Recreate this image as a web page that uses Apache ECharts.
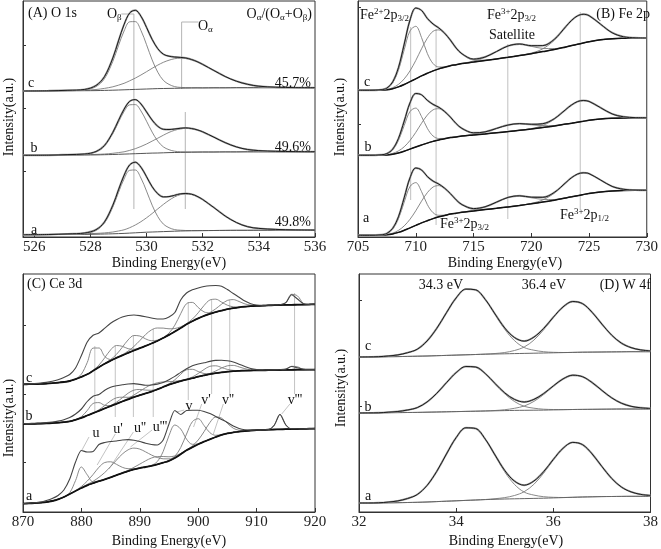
<!DOCTYPE html>
<html><head><meta charset="utf-8">
<script src="https://cdn.jsdelivr.net/npm/echarts@6/dist/echarts.min.js"></script>
<style>html,body{margin:0;padding:0;background:#fff}#c{width:661px;height:549px}</style>
</head><body><div id="c"></div>
<script>
// ---------- Panel A : O 1s ----------
const xA = [525.6,526.5,527.2,527.8,528.2,528.5,528.8,529.0,529.2,529.4,529.6,529.8,530.0,530.2,530.4,530.6,530.8,531.0,531.2,531.4,531.6,531.8,532.0,532.4,532.8,533.2,533.6,534.0,534.6,535.3,536.0];
const ticksA = [526,528,530,532,534,536];
const bgA_a = [2.3,2.4,2.5,2.6,2.8,3.0,3.2,3.4,3.6,3.9,4.2,4.5,4.8,5.0,5.2,5.4,5.6,5.8,6.0,6.1,6.2,6.3,6.4,6.5,6.6,6.7,6.7,6.8,6.8,6.8,6.8];
const bgA_b = [81.7,81.8,81.9,82.0,82.1,82.3,82.5,82.7,82.9,83.1,83.3,83.5,83.7,83.9,84.0,84.2,84.4,84.5,84.6,84.7,84.8,84.9,85.0,85.0,85.1,85.1,85.2,85.2,85.2,85.2,85.2];
const bgA_c = [146.0,146.1,146.2,146.3,146.4,146.6,146.8,147.0,147.2,147.4,147.6,147.8,148.0,148.2,148.4,148.5,148.6,148.7,148.8,148.9,149.0,149.1,149.1,149.2,149.2,149.3,149.3,149.3,149.3,149.3,149.3];
const obA_a = [0,0,0.3,0.8,3.7,10.9,26.8,41.1,54.5,62.8,62.8,54.5,41.1,26.8,15.2,7.5,3.7,1.6,0.8,0.4,0.3,0.1,0,0,0,0,0,0,0,0,0];
const obA_b = [0,0,0.3,0.6,2.9,8.5,21.0,32.1,42.6,49.1,49.1,42.6,32.1,21.0,11.9,5.9,2.9,1.3,0.6,0.4,0.2,0.1,0,0,0,0,0,0,0,0,0];
const obA_c = [0,0,0.3,0.8,4.0,11.7,28.9,44.3,58.8,67.8,67.8,58.8,44.3,28.9,16.4,8.1,4.0,1.7,0.8,0.5,0.3,0.1,0,0,0,0,0,0,0,0,0];
const oaA_a = [0,0.1,0.3,0.6,0.8,1.1,1.8,2.6,3.6,5.4,7.8,10.8,14.4,18.5,22.9,27.2,31.1,34.3,36.3,37,36.3,34.3,31.1,22.9,14.4,7.8,3.6,1.8,0.8,0.3,0.1];
const oaA_b = [0,0,0.2,0.4,0.5,0.7,1.2,1.7,2.3,3.5,5.0,7.0,9.3,12.0,14.8,17.6,20.2,22.2,23.5,24,23.5,22.2,20.2,14.8,9.3,5.0,2.3,1.2,0.5,0.2,0.1];
const oaA_c = [0,0.1,0.2,0.5,1.1,2.0,3.4,4.8,6.5,8.8,11.3,14.2,17.3,20.5,23.5,26.2,28.2,29.6,30,29.6,28.2,26.2,23.5,17.3,11.3,6.5,3.4,1.5,0.5,0.1,0];
const guideA = [[[529.1,223],[529.55,223],[529.55,28]],[[531.85,215],[531.25,215],[531.25,148]],[[531.38,125],[531.38,28]]];

// ---------- Panel B : Fe 2p ----------
const xB = [705,706,707,707.5,708,708.5,709,709.5,710,710.5,711,711.5,712,712.5,713,713.5,714,715,716,717,718,719,720,721,722,723,723.5,724,724.5,725,726,727,728,729,730];
const ticksB = [705,710,715,720,725,730];
const bgB_a = [1.7,1.7,1.9,2.2,3.1,4.6,6.7,9.1,11.6,14.1,16.3,18.4,20.2,21.5,22.9,23.8,24.7,26.0,27.4,28.7,30.1,31.6,33.2,35.0,36.8,39.1,40.2,41.3,42.4,43.6,45.1,46.0,46.5,46.7,46.7];
const bgB_b = [81.7,81.7,81.9,82.1,82.8,84.1,85.8,87.9,90.0,92.0,93.9,95.6,97.1,98.2,99.4,100.1,100.9,102.0,103.1,104.3,105.4,106.7,108.0,109.5,111.0,112.9,113.8,114.8,115.7,116.7,118.0,118.7,119.1,119.3,119.3];
const bgB_c = [146.7,146.7,147.0,147.2,148.3,150.1,152.5,155.3,158.2,161.1,163.7,166.1,168.1,169.7,171.3,172.3,173.4,174.9,176.5,178.1,179.7,181.5,183.3,185.4,187.5,190.1,191.4,192.7,194.0,195.3,197.2,198.2,198.7,199.0,199.0];
const fe2B_a = [0,0,0.2,1.1,4.7,13.6,28.2,41.4,42.8,31.3,16.2,5.9,1.5,0.4,0.2,0,0,0,0,0,0,0,0,0,0,0,0,0,0,0,0,0,0,0,0];
const fe2B_b = [0,0,0.2,1.0,4.2,12.4,25.7,37.6,38.9,28.5,14.8,5.4,1.4,0.4,0.2,0,0,0,0,0,0,0,0,0,0,0,0,0,0,0,0,0,0,0,0];
const fe2B_c = [0,0,0.2,1.4,5.7,16.7,34.7,50.8,52.5,38.4,19.9,7.3,1.9,0.5,0.3,0,0,0,0,0,0,0,0,0,0,0,0,0,0,0,0,0,0,0,0];
const fe3B_a = [0,0,0.1,0.3,0.8,2.0,4.4,8.6,14.6,21.7,28.0,31.6,31.2,26.9,20.3,13.3,7.6,1.7,0.2,0,0,0,0,0,0,0,0,0,0,0,0,0,0,0,0];
const fe3B_b = [0,0,0.1,0.3,0.8,2.0,4.4,8.6,14.6,21.7,28.0,31.6,31.2,26.9,20.3,13.3,7.6,1.7,0.2,0,0,0,0,0,0,0,0,0,0,0,0,0,0,0,0];
const fe3B_c = [0,0,0.1,0.3,1.0,2.5,5.6,10.8,18.3,27.1,35.0,39.6,39.0,33.6,25.3,16.6,9.6,2.1,0.3,0,0,0,0,0,0,0,0,0,0,0,0,0,0,0,0];
const satB_a = [0,0,0,0,0,0,0,0,0,0,0,0,0,0,0,0,0.1,0.7,2.6,6.2,9.5,9.5,6.2,2.6,0.7,0.1,0,0,0,0,0,0,0,0,0];
const satB_b = [0,0,0,0,0,0,0,0,0,0,0,0,0,0,0,0,0.1,0.5,1.8,4.3,6.6,6.6,4.3,1.8,0.5,0.1,0,0,0,0,0,0,0,0,0];
const satB_c = [0,0,0,0,0,0,0,0,0,0,0,0,0,0,0,0,0.2,0.9,3.2,7.4,11.4,11.4,7.4,3.2,0.9,0.2,0,0,0,0,0,0,0,0,0];
const p12B_a = [0,0,0,0,0,0,0,0,0,0,0,0,0,0,0,0,0,0,0,0,0,0.1,0.4,2.1,7.1,15.3,19.2,21.6,21.8,19.8,11.9,4.6,1.2,0.2,0];
const p12B_b = [0,0,0,0,0,0,0,0,0,0,0,0,0,0,0,0,0,0,0,0,0,0.1,0.4,2.0,6.8,14.6,18.3,20.6,20.8,18.9,11.3,4.4,1.1,0.1,0];
const p12B_c = [0,0,0,0,0,0,0,0,0,0,0,0,0,0,0,0,0,0,0,0,0,0.1,0.6,2.8,9.3,20.2,25.3,28.4,28.7,26.1,15.6,6.1,1.5,0.2,0];
const guideB = [[[709.56,210],[709.56,37]],[[711.76,208],[711.76,12]],[[717.97,193],[717.97,18]],[[724.24,225],[724.24,27]]];

// ---------- Panel C : Ce 3d ----------
const xC = [870,871,872,873,874,875,876,877,878,879,880,881,882,883,884,885,886,887,888,889,890,891,892,893,894,895,896,897,898,899,900,901,902,903,904,905,906,907,908,909,910,911,912,913,914,915,916,917,918,919,920];
const ticksC = [870,880,890,900,910,920];
const bgC_a = [8.4,8.6,8.9,9.3,9.9,11.0,12.7,15.0,18.0,21.0,24.0,26.7,28.8,30.8,32.6,34.6,36.8,38.9,40.9,42.6,43.9,45.0,46.2,47.6,49.3,51.2,54.0,57.8,61.7,64.8,67.8,70.3,72.7,75.0,77.1,78.6,79.6,80.4,81.0,81.5,81.9,82.1,82.3,82.5,82.6,82.8,82.9,83.0,83.1,83.3,83.4];
const rawC_a = [8.5,8.7,9.2,10.0,11.5,13.5,16.5,22.0,33.0,50.0,61.5,60.0,60.5,67.5,69.5,70.5,71.0,72.0,72.4,71.8,70.5,68.8,67.5,67.0,72.0,88.0,101.5,97.5,101.5,101.8,101.7,100.5,98.4,95.5,92.5,89.5,86.0,83.6,82.3,81.9,82.0,82.2,82.4,86.5,97.5,87.0,83.2,83.2,83.3,83.5,83.6];
const bgC_b = [88.0,88.1,88.2,88.4,88.6,88.9,89.3,89.8,90.6,92.2,94.2,96.5,98.8,101.2,103.6,105.9,108.2,110.5,112.7,114.9,116.8,118.6,120.4,122.6,125.0,127.3,129.2,130.9,132.4,133.8,135.3,136.6,137.8,138.8,139.6,140.3,140.9,141.2,141.4,141.5,141.6,141.7,141.8,141.9,142.0,142.1,142.2,142.3,142.3,142.4,142.4];
const rawC_b = [88.3,88.5,88.7,89.0,89.4,90.0,90.9,92.3,94.5,98.0,103.0,110.5,115.8,117.5,121.8,124.8,126.3,127.2,128.0,128.4,127.6,126.8,127.0,127.9,129.5,132.3,135.6,139.6,143.3,146.3,148.0,149.2,150.6,151.6,151.8,151.2,150.0,147.8,145.6,143.5,142.4,142.0,142.0,142.1,142.3,142.9,145.5,144.2,142.7,142.5,142.5];
const bgC_c = [127.7,127.8,127.9,128.1,128.4,128.8,129.3,130.0,131.0,132.8,135.2,137.7,141.2,144.8,148.3,151.3,154.1,156.7,159.1,161.5,163.8,166.1,168.5,171.0,174.0,177.1,180.5,184.0,187.7,190.8,193.6,196.1,198.2,199.9,201.4,202.8,203.9,204.7,205.3,205.8,206.1,206.3,206.6,206.8,207.0,207.1,207.2,207.3,207.4,207.5,207.7];
const rawC_c = [127.8,128.0,128.4,128.9,129.6,130.7,132.3,134.6,137.5,144.0,156.5,170.0,176.8,179.0,183.8,188.7,192.3,195.0,196.5,197.0,196.4,195.3,194.0,193.0,193.0,195.0,199.5,212.0,219.0,222.2,224.0,225.5,226.3,226.5,225.8,222.5,218.5,214.8,211.0,208.3,207.0,206.6,206.8,207.0,207.3,209.3,217.3,213.0,208.3,207.6,207.7];
const uC_a  = [0,0,0,0,0,0,0,0,1.3,10.5,21,10.5,1.3,0,0,0,0,0,0,0,0,0,0,0,0,0,0,0,0,0,0,0,0,0,0,0,0,0,0,0,0,0,0,0,0,0,0,0,0,0,0];
const u1C_a = [0,0,0,0,0,0,0,0,0.1,0.4,1.5,4.2,8.7,13.9,16.9,15.6,10.9,5.8,2.4,0.7,0.2,0,0,0,0,0,0,0,0,0,0,0,0,0,0,0,0,0,0,0,0,0,0,0,0,0,0,0,0,0,0];
const u2C_a = [0,0,0,0,0,0,0,0,0,0,0.4,0.9,1.9,3.9,6.9,10.8,15.1,19.0,21.3,21.3,19.0,15.1,10.8,6.9,3.9,1.9,0.9,0.4,0,0,0,0,0,0,0,0,0,0,0,0,0,0,0,0,0,0,0,0,0,0,0];
const u3C_a = [0,0,0,0,0,0,0,0,0,0,0,0,0,0,0,0,0,0.3,0.8,2.1,4.0,6.2,7.8,7.8,6.2,4.0,2.1,0.8,0.3,0,0,0,0,0,0,0,0,0,0,0,0,0,0,0,0,0,0,0,0,0,0];
const vC_a  = [0,0,0,0,0,0,0,0,0,0,0,0,0,0,0,0,0,0,0,0,0,0,0.4,2.9,11.2,25.2,33,25.2,11.2,2.9,0.4,0,0,0,0,0,0,0,0,0,0,0,0,0,0,0,0,0,0,0,0];
const v1C_a = [0,0,0,0,0,0,0,0,0,0,0,0,0,0,0,0,0,0,0,0,0,0,0,0,0,0.3,1.7,6.6,16.2,25.5,25.5,16.2,6.6,1.7,0.3,0,0,0,0,0,0,0,0,0,0,0,0,0,0,0,0];
const v2C_a = [0,0,0,0,0,0,0,0,0,0,0,0,0,0,0,0,0,0,0,0,0,0,0,0,0,0,0,0,0.3,1.3,4.2,10.0,16.8,20.0,16.8,10.0,4.2,1.3,0.3,0,0,0,0,0,0,0,0,0,0,0,0];
const v3C_a = [0,0,0,0,0,0,0,0,0,0,0,0,0,0,0,0,0,0,0,0,0,0,0,0,0,0,0,0,0,0,0,0,0,0,0,0,0,0,0,0,0,0,0.1,4.4,15,4.4,0.1,0,0,0,0];
const uC_b  = [0,0,0,0,0,0,0,0,0,0.1,1.1,5.0,9.7,8.2,3.1,0.5,0,0,0,0,0,0,0,0,0,0,0,0,0,0,0,0,0,0,0,0,0,0,0,0,0,0,0,0,0,0,0,0,0,0,0];
const u1C_b = [0,0,0,0,0,0,0,0,0,0,0,0,0.2,1.0,2.9,5.2,6.0,4.3,2.0,0.6,0.1,0,0,0,0,0,0,0,0,0,0,0,0,0,0,0,0,0,0,0,0,0,0,0,0,0,0,0,0,0,0];
const u2C_b = [0,0,0,0,0,0,0,0,0,0,0,0,0,0,0.1,0.5,1.6,3.7,6.1,7.0,5.7,3.3,1.3,0.4,0,0,0,0,0,0,0,0,0,0,0,0,0,0,0,0,0,0,0,0,0,0,0,0,0,0,0];
const u3C_b = [0,0,0,0,0,0,0,0,0,0,0,0,0,0,0,0,0,0.3,0.9,2.1,3.9,5.8,6.9,6.6,5.1,3.1,1.5,0.6,0.2,0,0,0,0,0,0,0,0,0,0,0,0,0,0,0,0,0,0,0,0,0,0];
const vC_b  = [0,0,0,0,0,0,0,0,0,0,0,0,0,0,0,0,0,0,0,0,0,0,0,0,0.1,0.9,3.0,6.8,9.8,8.9,5.2,1.9,0.4,0,0,0,0,0,0,0,0,0,0,0,0,0,0,0,0,0,0];
const v1C_b = [0,0,0,0,0,0,0,0,0,0,0,0,0,0,0,0,0,0,0,0,0,0,0,0,0,0,0,0,0.3,1.2,3.2,5.9,7.9,7.4,4.9,2.3,0.7,0.2,0,0,0,0,0,0,0,0,0,0,0,0,0];
const v2C_b = [0,0,0,0,0,0,0,0,0,0,0,0,0,0,0,0,0,0,0,0,0,0,0,0,0,0,0,0,0,0,0,0.2,0.8,2.2,4.3,5.9,5.7,3.9,1.9,0.7,0.1,0,0,0,0,0,0,0,0,0,0];
const v3C_b = [0,0,0,0,0,0,0,0,0,0,0,0,0,0,0,0,0,0,0,0,0,0,0,0,0,0,0,0,0,0,0,0,0,0,0,0,0,0,0,0,0,0,0,0,0,0.7,3.5,2.9,0.4,0,0];
const uC_c  = [0,0,0,0,0,0,0,0,0,0.3,2.7,11.8,22.7,19.2,7.2,1.2,0.1,0,0,0,0,0,0,0,0,0,0,0,0,0,0,0,0,0,0,0,0,0,0,0,0,0,0,0,0,0,0,0,0,0,0];
const u1C_c = [0,0,0,0,0,0,0,0,0,0,0,0,0.5,2.1,6.0,10.8,12.4,9.0,4.2,1.2,0.2,0,0,0,0,0,0,0,0,0,0,0,0,0,0,0,0,0,0,0,0,0,0,0,0,0,0,0,0,0,0];
const u2C_c = [0,0,0,0,0,0,0,0,0,0,0,0,0,0,0.2,1.1,3.5,8.0,13.0,15.0,12.2,7.0,2.8,0.8,0.1,0,0,0,0,0,0,0,0,0,0,0,0,0,0,0,0,0,0,0,0,0,0,0,0,0,0];
const u3C_c = [0,0,0,0,0,0,0,0,0,0,0,0,0,0,0,0,0,0.6,1.8,4.1,7.6,11.4,13.6,13.0,9.9,6.1,3.0,1.2,0.4,0,0,0,0,0,0,0,0,0,0,0,0,0,0,0,0,0,0,0,0,0,0];
const vC_c  = [0,0,0,0,0,0,0,0,0,0,0,0,0,0,0,0,0,0,0,0,0,0,0,0,0.3,1.8,6.3,14.3,20.6,18.8,10.9,4.0,0.9,0.1,0,0,0,0,0,0,0,0,0,0,0,0,0,0,0,0,0];
const v1C_c = [0,0,0,0,0,0,0,0,0,0,0,0,0,0,0,0,0,0,0,0,0,0,0,0,0,0,0,0.1,0.6,2.1,5.6,10.4,13.8,12.9,8.5,4.0,1.3,0.3,0,0,0,0,0,0,0,0,0,0,0,0,0];
const v2C_c = [0,0,0,0,0,0,0,0,0,0,0,0,0,0,0,0,0,0,0,0,0,0,0,0,0,0,0,0,0,0,0,0.3,1.2,3.3,6.4,8.8,8.5,5.8,2.8,1.0,0.2,0,0,0,0,0,0,0,0,0,0];
const v3C_c = [0,0,0,0,0,0,0,0,0,0,0,0,0,0,0,0,0,0,0,0,0,0,0,0,0,0,0,0,0,0,0,0,0,0,0,0,0,0,0,0,0,0,0,0,0.1,2.2,10.5,8.8,1.3,0,0];
const ceGuideX = [882.3,885.8,888.9,892.3,898.3,902.3,905.4,916.5];
const ceGuideTop = [166,166,176,183,210,213,212,219];
const ceGuideBot = [100,95,95,95,112,118,118,118];
const ceLeadFrom = [[881.3,75],[885.8,78],[888.9,80],[892.1,82],[897.6,102],[900.6,108],[904.3,108],[915.7,108]];
const ceLeadTo = [[880.1,62],[882.7,47],[884.7,43],[888.4,65],[896.3,100],[899.2,85],[902.6,78],[914.3,98]];

// ---------- Panel D : W 4f ----------
const xD = [32.0,32.2,32.4,32.6,32.8,33.0,33.2,33.4,33.6,33.8,34.0,34.2,34.4,34.6,34.8,35.0,35.2,35.4,35.6,35.8,36.0,36.2,36.4,36.6,36.8,37.0,37.2,37.4,37.6,37.8,38.0];
const ticksD = [32,34,36,38];
const bgD_a = [9.0,9.0,9.1,9.2,9.3,9.5,9.7,10.0,10.4,10.8,11.2,11.6,12.0,12.4,12.7,13.0,13.2,13.4,13.6,13.8,14.1,14.4,14.7,15.0,15.2,15.4,15.5,15.6,15.7,15.7,15.7];
const bgD_b = [99.0,99.1,99.2,99.3,99.4,99.5,99.6,99.8,100.0,100.2,100.4,100.6,100.8,101.0,101.2,101.4,101.6,101.7,101.8,101.9,102.1,102.3,102.5,102.6,102.7,102.8,102.9,103.0,103.0,103.0,103.0];
const bgD_c = [155.0,155.1,155.2,155.3,155.4,155.6,155.8,156.0,156.3,156.6,156.9,157.2,157.5,157.8,158.0,158.2,158.4,158.6,158.8,159.0,159.2,159.4,159.6,159.8,159.9,160.0,160.1,160.2,160.3,160.3,160.3];
const p1D_a = [0,0,0.1,0.7,1.8,4.0,7.8,16.5,30.2,47.2,63.2,72.6,71.5,60.3,43.7,27.1,14.4,6.5,3.3,1.5,0.6,0.1,0,0,0,0,0,0,0,0,0];
const p2D_a = [0,0,0,0,0,0,0,0,0,0,0,0,0,0.1,0.6,1.4,3.3,6.9,14.1,25.0,37.9,49.2,54.9,52.4,42.8,30.1,18.1,9.4,4.4,1.9,0.8];
const p1D_b = [0,0,0,0.5,1.1,2.5,4.8,10.2,18.7,29.1,39.0,44.9,44.2,37.3,27.0,16.8,8.9,4.0,2.0,0.9,0.4,0.1,0,0,0,0,0,0,0,0,0];
const p2D_b = [0,0,0,0,0,0,0,0,0,0,0,0,0,0.1,0.3,0.9,2.1,4.3,8.8,15.6,23.6,30.7,34.3,32.7,26.7,18.8,11.3,5.8,2.7,1.2,0.5];
const p1D_c = [0,0,0.1,0.7,1.7,3.7,7.0,15.0,27.3,42.7,57.2,65.7,64.7,54.6,39.5,24.5,13.0,5.9,3.0,1.3,0.5,0.1,0,0,0,0,0,0,0,0,0];
const p2D_c = [0,0,0,0,0,0,0,0,0,0,0,0,0,0.1,0.5,1.3,3.1,6.4,13.1,23.2,35.1,45.6,50.9,48.6,39.7,27.9,16.8,8.7,4.1,1.8,0.8];

// ---------- sanity check ----------
function chk(name, arr, n){ if(arr.length!==n) throw new Error(name+' has '+arr.length+' values, expected '+n); }
[['bgA_a',bgA_a],['bgA_b',bgA_b],['bgA_c',bgA_c],['obA_a',obA_a],['obA_b',obA_b],['obA_c',obA_c],['oaA_a',oaA_a],['oaA_b',oaA_b],['oaA_c',oaA_c]].forEach(p=>chk(p[0],p[1],xA.length));
[['bgB_a',bgB_a],['bgB_b',bgB_b],['bgB_c',bgB_c],['fe2B_a',fe2B_a],['fe2B_b',fe2B_b],['fe2B_c',fe2B_c],['fe3B_a',fe3B_a],['fe3B_b',fe3B_b],['fe3B_c',fe3B_c],['satB_a',satB_a],['satB_b',satB_b],['satB_c',satB_c],['p12B_a',p12B_a],['p12B_b',p12B_b],['p12B_c',p12B_c]].forEach(p=>chk(p[0],p[1],xB.length));
[['bgC_a',bgC_a],['rawC_a',rawC_a],['bgC_b',bgC_b],['rawC_b',rawC_b],['bgC_c',bgC_c],['rawC_c',rawC_c],['uC_a',uC_a],['u1C_a',u1C_a],['u2C_a',u2C_a],['u3C_a',u3C_a],['vC_a',vC_a],['v1C_a',v1C_a],['v2C_a',v2C_a],['v3C_a',v3C_a],['uC_b',uC_b],['u1C_b',u1C_b],['u2C_b',u2C_b],['u3C_b',u3C_b],['vC_b',vC_b],['v1C_b',v1C_b],['v2C_b',v2C_b],['v3C_b',v3C_b],['uC_c',uC_c],['u1C_c',u1C_c],['u2C_c',u2C_c],['u3C_c',u3C_c],['vC_c',vC_c],['v1C_c',v1C_c],['v2C_c',v2C_c],['v3C_c',v3C_c]].forEach(p=>chk(p[0],p[1],xC.length));
[['bgD_a',bgD_a],['bgD_b',bgD_b],['bgD_c',bgD_c],['p1D_a',p1D_a],['p2D_a',p2D_a],['p1D_b',p1D_b],['p2D_b',p2D_b],['p1D_c',p1D_c],['p2D_c',p2D_c]].forEach(p=>chk(p[0],p[1],xD.length));

// ---------- build ----------
const FONT = '"Liberation Serif","Times New Roman",serif';
const series = [];
function pairs(xs, ys){ return xs.map((x,i)=>[x, ys[i]]); }
function onBg(bg, comps){ return bg.map((b,i)=>{ let s=b; comps.forEach(c=>{ s+=c[i]; }); return Math.round(s*100)/100; }); }
function addLine(gi, xs, ys, color, width, z, smooth){
  series.push({type:'line', xAxisIndex:gi, yAxisIndex:gi, data:pairs(xs,ys), symbol:'none', showSymbol:false,
    smooth:(smooth===undefined?0.35:smooth), lineStyle:{color:color, width:width}, z:z, silent:true, animation:false});
}
function addSeg(gi, pts, color){
  series.push({type:'line', xAxisIndex:gi, yAxisIndex:gi, data:pts, symbol:'none', showSymbol:false, smooth:false,
    lineStyle:{color:color, width:1}, z:1, silent:true, animation:false});
}
function fitted(gi, xs, bg, comps, bgColor, bgWidth){
  comps.forEach(c=>addLine(gi, xs, onBg(bg,[c]), '#7c7c7c', 0.9, 3));
  addLine(gi, xs, bg, bgColor, bgWidth, 4);
  const env = onBg(bg, comps);
  addLine(gi, xs, env, '#a0a0a0', 1.9, 5);
  addLine(gi, xs, env, '#1c1c1c', 1.0, 6);
}
function ceSpec(xs, bg, raw, comps){
  comps.forEach(c=>addLine(2, xs, onBg(bg,[c]), '#7c7c7c', 0.9, 3));
  addLine(2, xs, bg, '#111', 1.8, 4);
  addLine(2, xs, raw, '#444', 1.1, 5, 0.25);
}

// A
guideA.forEach(g=>addSeg(0, g, '#b4b4b4'));
fitted(0, xA, bgA_a, [obA_a, oaA_a], '#555', 1.0);
fitted(0, xA, bgA_b, [obA_b, oaA_b], '#555', 1.0);
fitted(0, xA, bgA_c, [obA_c, oaA_c], '#555', 1.0);
// B
guideB.forEach(g=>addSeg(1, g, '#c0c0c0'));
fitted(1, xB, bgB_a, [fe2B_a, fe3B_a, satB_a, p12B_a], '#111', 1.5);
fitted(1, xB, bgB_b, [fe2B_b, fe3B_b, satB_b, p12B_b], '#111', 1.5);
fitted(1, xB, bgB_c, [fe2B_c, fe3B_c, satB_c, p12B_c], '#111', 1.5);
// C
ceGuideX.forEach((x,i)=>addSeg(2, [[x, ceGuideTop[i]],[x, ceGuideBot[i]]], '#c4c4c4'));
ceLeadFrom.forEach((p,i)=>addSeg(2, [p, ceLeadTo[i]], '#c4c4c4'));
ceSpec(xC, bgC_a, rawC_a, [uC_a,u1C_a,u2C_a,u3C_a,vC_a,v1C_a,v2C_a,v3C_a]);
ceSpec(xC, bgC_b, rawC_b, [uC_b,u1C_b,u2C_b,u3C_b,vC_b,v1C_b,v2C_b,v3C_b]);
ceSpec(xC, bgC_c, rawC_c, [uC_c,u1C_c,u2C_c,u3C_c,vC_c,v1C_c,v2C_c,v3C_c]);
// D
fitted(3, xD, bgD_a, [p1D_a, p2D_a], '#666', 1.0);
fitted(3, xD, bgD_b, [p1D_b, p2D_b], '#666', 1.0);
fitted(3, xD, bgD_c, [p1D_c, p2D_c], '#666', 1.0);

const grids = [
  {left:23, top:1, width:292, height:236},
  {left:358, top:1, width:293, height:236},
  {left:23, top:274, width:292, height:238},
  {left:359, top:274, width:293, height:238}
].map(g=>Object.assign(g, {show:true, borderColor:'#333', borderWidth:1, backgroundColor:'transparent'}));

function xAx(gi, min, max, ticks){
  return {type:'value', gridIndex:gi, min:min, max:max,
    axisLine:{show:true, onZero:false, lineStyle:{color:'#333', width:1}},
    splitLine:{show:false},
    axisTick:{show:true, inside:true, length:4, customValues:ticks, lineStyle:{color:'#333'}},
    axisLabel:{show:true, customValues:ticks, margin:3, fontFamily:FONT, fontSize:15, color:'#222',
      formatter:function(v){ return String(Math.round(v)); }}};
}
function yAx(gi, max, ticks){
  return {type:'value', gridIndex:gi, min:0, max:max,
    axisLine:{show:true, onZero:false, lineStyle:{color:'#333', width:1}},
    splitLine:{show:false}, axisLabel:{show:false},
    axisTick:{show:true, inside:true, length:3, customValues:ticks, lineStyle:{color:'#333'}}};
}

const rich = {
  n:{fontFamily:FONT, fontSize:14, color:'#111', lineHeight:16},
  sub:{fontFamily:FONT, fontSize:9, color:'#111', lineHeight:9, verticalAlign:'bottom'},
  sup:{fontFamily:FONT, fontSize:9, color:'#111', lineHeight:9, verticalAlign:'top'}
};
function txt(text, x, y, align, size, rot){
  const el = {type:'text', x:x, y:y, z:100, silent:true,
    style:{text:text, fill:'#111', font:(size||14)+'px '+FONT, fontFamily:FONT, fontSize:size||14,
      align:align||'center', textAlign:align||'center', verticalAlign:'middle', textVerticalAlign:'middle', rich:rich}};
  if (rot) el.rotation = rot;
  return el;
}
const texts = [
  // A
  txt('(A) O 1s', 28, 13, 'left'),
  txt('{n|O}{sub|β}', 107, 14, 'left'),
  txt('{n|O}{sub|α}', 198, 26, 'left'),
  txt('{n|O}{sub|α}{n|/(O}{sub|α}{n|+O}{sub|β}{n|)}', 312, 14, 'right'),
  txt('45.7%', 311, 83, 'right'), txt('49.6%', 311, 147, 'right'), txt('49.8%', 311, 222, 'right'),
  txt('c', 31, 83), txt('b', 34, 148), txt('a', 34, 230),
  // B
  txt('{n|Fe}{sup|2+}{n|2p}{sub|3/2}', 360, 15, 'left'),
  txt('{n|Fe}{sup|3+}{n|2p}{sub|3/2}', 487, 15, 'left'),
  txt('Satellite', 489, 35, 'left'),
  txt('(B) Fe 2p', 650, 14, 'right'),
  txt('c', 367, 82), txt('b', 368, 147), txt('a', 366, 218),
  txt('{n|Fe}{sup|3+}{n|2p}{sub|3/2}', 440, 224, 'left'),
  txt('{n|Fe}{sup|3+}{n|2p}{sub|1/2}', 560, 215, 'left'),
  // C
  txt('(C) Ce 3d', 27, 284, 'left'),
  txt('c', 29, 378), txt('b', 29, 416), txt('a', 29, 496),
  txt("u", 96, 433), txt("u'", 118, 429), txt("u''", 140, 428), txt("u'''", 160, 427),
  txt("v", 189, 406), txt("v'", 206, 400), txt("v''", 228, 400), txt("v'''", 295, 400),
  // D
  txt('34.3 eV', 441, 285), txt('36.4 eV', 544, 285), txt('(D) W 4f', 651, 285, 'right'),
  txt('c', 368, 346), txt('b', 368, 407), txt('a', 368, 496),
  // axis titles
  txt('Binding Energy(eV)', 169, 263), txt('Binding Energy(eV)', 505, 263),
  txt('Binding Energy(eV)', 169, 541), txt('Binding Energy(eV)', 506, 541),
  txt('Intensity(a.u.)', 9, 117, 'center', 14, Math.PI/2),
  txt('Intensity(a.u.)', 340, 117, 'center', 14, Math.PI/2),
  txt('Intensity(a.u.)', 9, 418, 'center', 14, Math.PI/2),
  txt('Intensity(a.u.)', 341, 388, 'center', 14, Math.PI/2)
];

const chart = echarts.init(document.getElementById('c'), null, {renderer:'canvas', width:661, height:549});
chart.setOption({
  animation:false,
  backgroundColor:'#fff',
  grid:grids,
  xAxis:[xAx(0,525.6,536,ticksA), xAx(1,705,730,ticksB), xAx(2,870,920,ticksC), xAx(3,32,38,ticksD)],
  yAxis:[yAx(0,236,[66,129,192]), yAx(1,236,[113,230]), yAx(2,238,[50,118,187]), yAx(3,238,[106,212])],
  series:series,
  graphic:{elements:texts}
});
</script></body></html>
